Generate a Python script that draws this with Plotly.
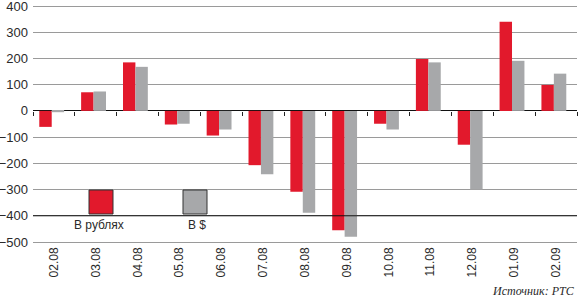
import plotly.graph_objects as go

months = ["02.08", "03.08", "04.08", "05.08", "06.08", "07.08", "08.08",
          "09.08", "10.08", "11.08", "12.08", "01.09", "02.09"]
rub_values = [-61, 71, 185, -52, -94, -207, -308, -455, -49, 198, -129, 340, 99]
usd_values = [-5, 74, 168, -49, -71, -242, -388, -480, -71, 185, -300, 191, 142]
y_ticks = [400, 300, 200, 100, 0, -100, -200, -300, -400, -500]

RED = "#e2192c"
GRAY = "#a7a8aa"
TXT = "#2a2a2a"

fig = go.Figure()
fig.add_trace(go.Bar(x=months, y=rub_values, name="В рублях",
                     marker=dict(color=RED, line=dict(width=0)),
                     width=0.297, offset=-0.35))
fig.add_trace(go.Bar(x=months, y=usd_values, name="В $",
                     marker=dict(color=GRAY, line=dict(width=0)),
                     width=0.297, offset=-0.053))
# helper trace so the tick axis on the zero line gets drawn
fig.add_trace(go.Scatter(x=months, y=[None] * len(months), xaxis="x2",
                         mode="markers", showlegend=False, hoverinfo="skip"))

# plot area spans y pixels 4..244; value 400 -> 6px, -500 -> 242px
Y_MIN, Y_MAX = -507.63, 407.63
TOP, BOTTOM_PX = 4, 244

fig.update_layout(
    width=582, height=300,
    margin=dict(l=33, r=5, t=TOP, b=300 - BOTTOM_PX, autoexpand=False),
    paper_bgcolor="white", plot_bgcolor="white",
    barmode="overlay", showlegend=False,
    font=dict(family="Liberation Sans, Arial, sans-serif", color=TXT),
    xaxis=dict(type="category", categoryarray=months, range=[-0.5, 12.5],
               tickangle=-90, tickfont=dict(size=12, color=TXT), automargin=False,
               showgrid=False, zeroline=False, showline=False, ticks=""),
    xaxis2=dict(type="category", categoryarray=months, range=[-0.5, 12.5],
                overlaying="x", anchor="free", position=(0 - Y_MIN) / (Y_MAX - Y_MIN),
                automargin=False,
                tickson="boundaries", ticks="outside", ticklen=4,
                tickcolor="#222", tickwidth=1, showticklabels=False,
                showgrid=False, zeroline=False, showline=False),
    yaxis=dict(range=[Y_MIN, Y_MAX], tickvals=y_ticks, automargin=False,
               tickfont=dict(size=13, color=TXT), ticklabeloverflow="allow",
               showgrid=True, gridcolor="#9a9a9a", gridwidth=1,
               zeroline=True, zerolinecolor="#111", zerolinewidth=1,
               showline=False, ticks="", ticklabelstandoff=4),
)

# black reference line at -400
fig.add_shape(type="line", xref="paper", yref="y", x0=0, x1=1, y0=-400, y1=-400,
              line=dict(color="#111", width=1), layer="above")

# custom legend
def px_x(px):
    return (px - 33) / 544

def px_y(py):
    return (BOTTOM_PX - py) / (BOTTOM_PX - TOP)

for x0, color in [(89, RED), (183, GRAY)]:
    fig.add_shape(type="rect", xref="paper", yref="paper",
                  x0=px_x(x0), x1=px_x(x0 + 24), y0=px_y(214), y1=px_y(190),
                  fillcolor=color, line=dict(color="#333", width=1), layer="above")

fig.add_annotation(text="В рублях", xref="paper", yref="paper",
                   x=px_x(99), y=px_y(225), showarrow=False,
                   font=dict(size=12, color=TXT), xanchor="center", yanchor="middle")
fig.add_annotation(text="В $", xref="paper", yref="paper",
                   x=px_x(197), y=px_y(225), showarrow=False,
                   font=dict(size=12, color=TXT), xanchor="center", yanchor="middle")

fig.add_annotation(text="<i>Источник: РТС</i>", xref="paper", yref="paper",
                   x=1, y=px_y(291), showarrow=False, xanchor="right", yanchor="middle",
                   font=dict(family="Liberation Serif, Times New Roman, serif",
                             size=12, color=TXT))

fig.write_html("out.html",
               config={"displayModeBar": False},
               post_script="document.body.style.margin='0';"
                           "document.body.style.overflow='hidden';")
